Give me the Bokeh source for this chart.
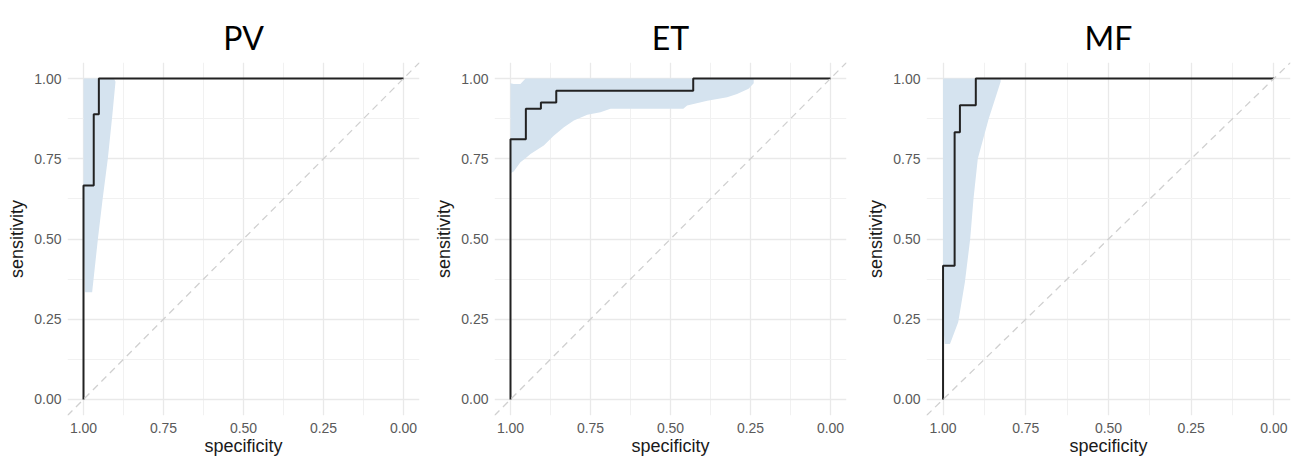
from bokeh.plotting import figure
from bokeh.layouts import row, column
from bokeh.models import Range1d, FixedTicker, Slope
from bokeh.core.properties import value
from bokeh.embed import file_html
from bokeh.resources import INLINE

# ---------------- data ----------------
panel_titles = ["PV", "ET", "MF"]

tick_vals = [0.0, 0.25, 0.5, 0.75, 1.0]
tick_labels = ["0.00", "0.25", "0.50", "0.75", "1.00"]
minor_vals = [0.125, 0.375, 0.625, 0.875]

# ROC paths (specificity, sensitivity)
pv_spec = [1.0, 1.0, 0.968, 0.968, 0.952, 0.952, 0.0]
pv_sens = [0.0, 0.667, 0.667, 0.889, 0.889, 1.0, 1.0]

et_spec = [1.0, 1.0, 0.952, 0.952, 0.905, 0.905, 0.857, 0.857, 0.429, 0.429, 0.0]
et_sens = [0.0, 0.811, 0.811, 0.906, 0.906, 0.925, 0.925, 0.962, 0.962, 1.0, 1.0]

mf_spec = [1.0, 1.0, 0.965, 0.965, 0.949, 0.949, 0.901, 0.901, 0.0]
mf_sens = [0.0, 0.417, 0.417, 0.833, 0.833, 0.917, 0.917, 1.0, 1.0]

# confidence bands
pv_band_sens = [0.334, 0.5, 0.626, 0.75, 0.885, 0.99, 1.0]
pv_band_spec_lo = [0.995, 1.0, 1.0, 1.0, 1.0, 1.0, 1.0]
pv_band_spec_hi = [0.973, 0.955, 0.94, 0.924, 0.91, 0.90, 0.905]

et_band_spec = [1.0, 0.99, 0.969, 0.953, 0.9375, 0.896, 0.865, 0.833, 0.802,
                0.76, 0.719, 0.6875, 0.46, 0.448, 0.385, 0.323, 0.292, 0.256, 0.24]
et_band_lo = [0.705, 0.71, 0.739, 0.752, 0.765, 0.791, 0.822, 0.848, 0.869,
              0.887, 0.895, 0.906, 0.906, 0.916, 0.931, 0.942, 0.952, 0.968, 0.985]
et_band_hi = [0.985, 0.983, 0.983, 1.0, 1.0, 1.0, 1.0, 1.0, 1.0,
              1.0, 1.0, 1.0, 1.0, 1.0, 1.0, 1.0, 1.0, 1.0, 1.0]

mf_band_sens = [0.173, 0.241, 0.365, 0.5, 0.625, 0.75, 0.875, 0.99, 1.0]
mf_band_spec_lo = [0.995, 1.0, 1.0, 1.0, 1.0, 1.0, 1.0, 1.0, 1.0]
mf_band_spec_hi = [0.979, 0.954, 0.934, 0.918, 0.908, 0.895, 0.862, 0.826, 0.826]

BAND = "#d5e3ef"
LINE = "#222222"
FONT = "Liberation Sans"
TITLE_H = 62


def make_title(title, width, left, right):
    t = figure(width=width, height=TITLE_H, output_backend="svg", toolbar_location=None,
               title=None, x_range=Range1d(1.05, -0.05), y_range=Range1d(0, TITLE_H),
               x_axis_location=None, y_axis_location=None,
               min_border_left=left, min_border_right=right,
               min_border_top=0, min_border_bottom=0)
    t.outline_line_color = None
    t.xgrid.visible = False
    t.ygrid.visible = False
    t.text(x=[0.5], y=[25], text=[title], text_align="center",
           text_baseline="alphabetic", text_font=value("Lato"),
           text_font_size="32px", text_color="black")
    return t


def make_panel(width, left, right):
    p = figure(width=width, height=460 - TITLE_H, output_backend="svg",
               toolbar_location=None, title=None,
               x_range=Range1d(1.05, -0.05), y_range=Range1d(-0.05, 1.05),
               min_border_left=left, min_border_right=right,
               min_border_top=0, min_border_bottom=45)
    p.outline_line_color = None
    p.background_fill_color = "white"
    p.border_fill_color = "white"

    overrides = {v: l for v, l in zip(tick_vals, tick_labels)}
    for ax, lab in ((p.xaxis[0], "specificity"), (p.yaxis[0], "sensitivity")):
        ax.ticker = FixedTicker(ticks=tick_vals, minor_ticks=minor_vals)
        ax.major_label_overrides = overrides
        ax.axis_line_color = None
        ax.major_tick_line_color = None
        ax.minor_tick_line_color = None
        ax.major_tick_out = 0
        ax.major_tick_in = 0
        ax.minor_tick_out = 0
        ax.minor_tick_in = 0
        ax.major_label_text_font = FONT
        ax.major_label_text_font_size = "14px"
        ax.major_label_text_color = "#5a5a5a"
        ax.axis_label = lab
        ax.axis_label_text_font = FONT
        ax.axis_label_text_font_size = "18px"
        ax.axis_label_text_font_style = "normal"
        ax.axis_label_text_color = "#1a1a1a"
    p.xaxis[0].major_label_standoff = 7
    p.xaxis[0].axis_label_standoff = 0
    p.yaxis[0].major_label_standoff = 6
    p.yaxis[0].axis_label_standoff = 4

    for g in (p.xgrid[0], p.ygrid[0]):
        g.grid_line_color = "#e9e9e9"
        g.grid_line_width = 1.3
        g.minor_grid_line_color = "#f1f1f1"
        g.minor_grid_line_width = 1.0
    p.add_layout(Slope(gradient=-1, y_intercept=1, line_color="#d0d0d0",
                       line_width=1.3, line_dash="7 5"))
    return p


dims = [(430, 67, 11), (430, 64, 14), (445, 66, 15)]
titles = [make_title(tt, *d) for tt, d in zip(panel_titles, dims)]

p1 = make_panel(*dims[0])
p1.harea(y=pv_band_sens, x1=pv_band_spec_lo, x2=pv_band_spec_hi, fill_color=BAND)
p1.line(pv_spec, pv_sens, line_color=LINE, line_width=2)

p2 = make_panel(*dims[1])
p2.varea(x=et_band_spec, y1=et_band_lo, y2=et_band_hi, fill_color=BAND)
p2.line(et_spec, et_sens, line_color=LINE, line_width=2)

p3 = make_panel(*dims[2])
p3.harea(y=mf_band_sens, x1=mf_band_spec_lo, x2=mf_band_spec_hi, fill_color=BAND)
p3.line(mf_spec, mf_sens, line_color=LINE, line_width=2)

layout = column(row(*titles, spacing=0), row(p1, p2, p3, spacing=0), spacing=0)
open("out.html", "w").write(file_html(layout, INLINE))
